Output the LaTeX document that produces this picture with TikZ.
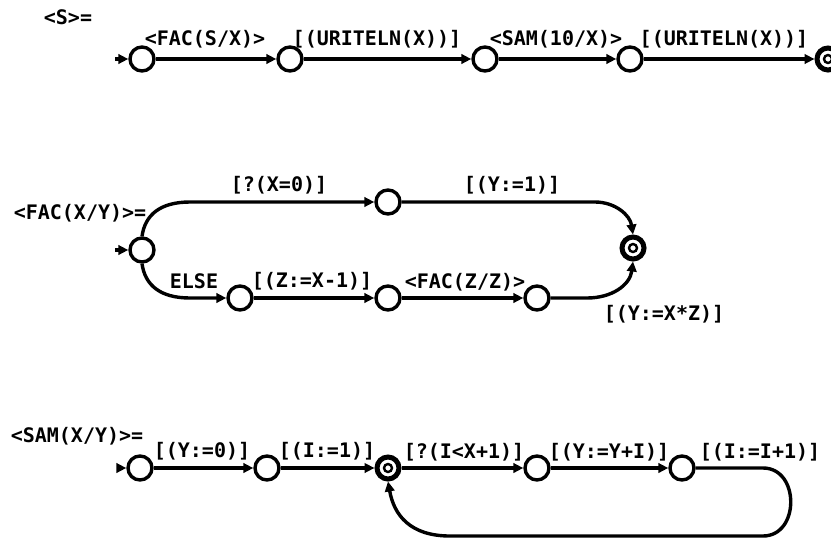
\documentclass[tikz,border=0pt]{standalone}
\usepackage{fontspec}
\newfontfamily\lblfam{DejaVu Sans Mono}
\usetikzlibrary{arrows.meta}
\begin{document}
\begin{tikzpicture}[x=1pt,y=-1pt,
  lbl/.style={font=\lblfam\bfseries\fontsize{20}{22}\selectfont, inner sep=0},
  st/.style={circle, draw, line width=3.4pt, minimum size=24pt, inner sep=0, fill=white},
  fin/.style={circle, draw, line width=5pt, minimum size=22pt, inner sep=0, fill=white,
    path picture={\draw[line width=2.4pt] (path picture bounding box.center) circle (4pt);}},
  arr/.style={line width=3.4pt, -{Triangle[length=10pt,width=9.5pt]}}]
\useasboundingbox (0,0) rectangle (831,542);
% ---------- row 1 ----------
\node[lbl] (t0) at (68,17) {<S>=};
\coordinate (a0) at (115,59);
\node[st] (a1) at (142,59) {};
\node[st] (a2) at (290,59) {};
\node[st] (a3) at (485,59) {};
\node[st] (a4) at (630,59) {};
\node[fin] (a5) at (828,59) {};
\draw[arr] (a0) -- (a1);
\draw[arr] (a1) -- (a2);
\draw[arr] (a2) -- (a3);
\draw[arr] (a3) -- (a4);
\draw[arr] (a4) -- (a5);
\node[lbl] (la1) at (205,39) {<FAC(S/X)>};
\node[lbl] (la2) at (377,39) {[(URITELN(X))]};
\node[lbl] (la3) at (556,39) {<SAM(10/X)>};
\node[lbl] (la4) at (724,39) {[(URITELN(X))]};
% ---------- row 2 ----------
\node[lbl] (t1) at (80,213) {<FAC(X/Y)>=};
\coordinate (b0in) at (115,250);
\node[st] (b0) at (142,250) {};
\node[st] (b1) at (388,202) {};
\node[st] (b2) at (240,298) {};
\node[st] (b3) at (388,298) {};
\node[st] (b4) at (537,298) {};
\node[fin] (b5) at (633,248) {};
\draw[arr] (b0in) -- (b0);
\draw[arr] (b0.north) .. controls (145,215) and (160,202) .. (190,202) -- (b1);
\draw[arr] (b0.south) .. controls (145,285) and (160,298) .. (190,298) -- (b2);
\draw[arr] (b2) -- (b3);
\draw[arr] (b3) -- (b4);
\draw[arr] (b1) -- (595,202) .. controls (615,202) and (630,215) .. (b5.north);
\draw[arr] (b4) -- (587,298) .. controls (612,298) and (630,285) .. (b5.south);
\node[lbl] (lb1) at (279,185) {[?(X=0)]};
\node[lbl] (lb2) at (512,185) {[(Y:=1)]};
\node[lbl] (lb3) at (194,281) {ELSE};
\node[lbl] (lb4) at (312,281) {[(Z:=X-1)]};
\node[lbl] (lb5) at (465,282) {<FAC(Z/Z)>};
\node[lbl] (lb6) at (664,314) {[(Y:=X*Z)]};
% ---------- row 3 ----------
\node[lbl] (t2) at (77,436) {<SAM(X/Y)>=};
\coordinate (c0in) at (117,468);
\node[st] (c1) at (140,468) {};
\node[st] (c2) at (267,468) {};
\node[fin] (c3) at (388,468) {};
\node[st] (c4) at (537,468) {};
\node[st] (c5) at (682,468) {};
\draw[arr] (c0in) -- (c1);
\draw[arr] (c1) -- (c2);
\draw[arr] (c2) -- (c3);
\draw[arr] (c3) -- (c4);
\draw[arr] (c4) -- (c5);
\draw[arr] (c5) -- (763,468) .. controls (800,468) and (800,536) .. (763,536)
  -- (450,536) .. controls (410,536) and (394,515) .. (c3.south);
\node[lbl] (lc1) at (202,451) {[(Y:=0)]};
\node[lbl] (lc2) at (327,451) {[(I:=1)]};
\node[lbl] (lc3) at (464,452) {[?(I<X+1)]};
\node[lbl] (lc4) at (609,452) {[(Y:=Y+I)]};
\node[lbl] (lc5) at (760,452) {[(I:=I+1)]};
\end{tikzpicture}
\end{document}
